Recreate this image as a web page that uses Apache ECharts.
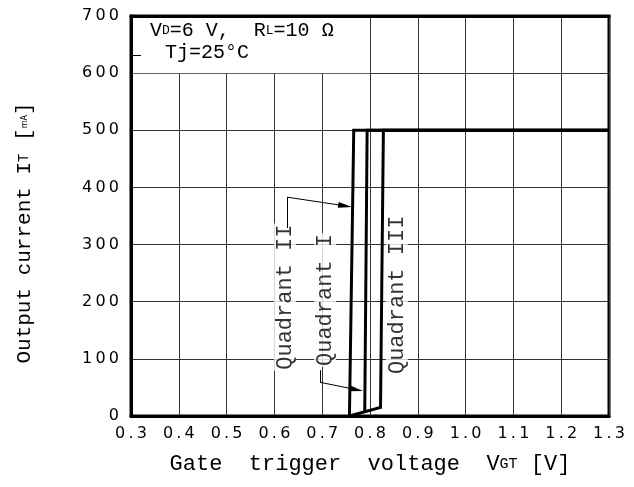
<!DOCTYPE html>
<html><head><meta charset="utf-8">
<script src="https://cdn.jsdelivr.net/npm/echarts@6/dist/echarts.min.js"></script>
<style>html,body{margin:0;padding:0;background:#fff}#c{width:634px;height:487px}</style>
</head><body><div id="c"></div>
<script>
// ---- data ----
const xTickLabels = ['0.3','0.4','0.5','0.6','0.7','0.8','0.9','1.0','1.1','1.2','1.3'];
const yTickLabels = ['0','100','200','300','400','500','600','700'];
const quadrantII  = [[0.757,0],[0.766,500],[1.3,500]];
const quadrantI   = [[0.789,6],[0.794,500],[1.3,500]];
const quadrantIII = [[0.757,0],[0.822,15],[0.828,500],[1.3,500]];
const labelNames  = ['Quadrant II','Quadrant I','Quadrant III'];
const labelPos    = [[0.622,208],[0.706,203],[0.856,212]];
const leaderStems  = [[[0.6264,329],[0.6264,383]], [[0.6954,80],[0.6954,59]], [[0.3,632],[0.321,632]]];
const leaderArrows = [[[0.6264,383],[0.748,367.7]], [[0.6954,59],[0.771,46.2]]];
const condBox = [[0.3,600],[0.798,700]];

const MONO = '"Liberation Mono", monospace';
const SANS = '"DejaVu Sans", sans-serif';
const sp = s => s.split('').join('\u2009');

const chart = echarts.init(document.getElementById('c'), null, {renderer:'canvas'});
const black = '#000';
const curveStyle = {color:black, width:3, join:'miter'};

const option = {
  animation:false,
  backgroundColor:'#fff',
  grid:{left:131, right:25, top:16, bottom:71, show:true, borderColor:black, borderWidth:3, backgroundColor:'transparent'},
  xAxis:[{
    type:'value', min:0.3, max:1.3, interval:0.1, position:'bottom',
    axisLine:{onZero:false, lineStyle:{color:black,width:3}},
    axisTick:{show:false},
    splitLine:{lineStyle:{color:'#333',width:1}},
    axisLabel:{formatter:(v,i)=>sp(xTickLabels[i]), color:black, fontFamily:SANS, fontSize:16, margin:10},
    name:'Gate  trigger  voltage  V{s|GT} [V]', nameLocation:'middle', nameGap:37,
    nameTextStyle:{color:black, fontFamily:MONO, fontSize:22, rich:{s:{fontFamily:MONO,fontSize:15,color:black}}}
  },{
    type:'value', min:0.3, max:1.3, position:'top', z:5,
    axisLine:{show:true,onZero:false, lineStyle:{color:black,width:3}},
    axisTick:{show:false}, axisLabel:{show:false}, splitLine:{show:false}
  }],
  yAxis:[{
    type:'value', min:0, max:700, interval:100, position:'left',
    axisLine:{onZero:false, lineStyle:{color:black,width:3}},
    axisTick:{show:false},
    splitLine:{lineStyle:{color:'#333',width:1}},
    axisLabel:{formatter:(v,i)=>sp(yTickLabels[i]), color:black, fontFamily:SANS, fontSize:16, margin:12},
    name:'Output current I{s|T} [{t|mA}]', nameLocation:'middle', nameGap:96, nameRotate:90,
    nameTextStyle:{color:black, fontFamily:MONO, fontSize:21, padding:[0,34,0,0],
      rich:{s:{fontFamily:MONO,fontSize:14,color:black}, t:{fontFamily:SANS,fontSize:8,color:black}}}
  },{
    type:'value', min:0, max:700, position:'left', z:5,
    axisLine:{show:true,onZero:false, lineStyle:{color:black,width:3}},
    axisTick:{show:false}, axisLabel:{show:false}, splitLine:{show:false}
  }],
  series:[
    {type:'line', data:quadrantII, symbol:'none', lineStyle:curveStyle, z:3,
     markArea:{silent:true, itemStyle:{color:'#fff', opacity:1, borderWidth:0},
       label:{show:true, position:'insideTopLeft', distance:0, offset:[19,4], color:black,
         formatter:'{a|V}{s|D}{a|=6 V,  R}{s|L}{a|=10 Ω}\n{p|}{a|Tj=25°C}',
         rich:{a:{fontFamily:MONO,fontSize:20,color:black,lineHeight:22},
               s:{fontFamily:MONO,fontSize:13,color:black,lineHeight:22},
               p:{width:15}}},
       data:[[{xAxis:condBox[0][0], yAxis:condBox[0][1]},{xAxis:condBox[1][0], yAxis:condBox[1][1]}]]}},
    {type:'line', data:quadrantI, symbol:'none', lineStyle:curveStyle, z:3},
    {type:'line', data:quadrantIII, symbol:'none', lineStyle:curveStyle, z:3},
    {type:'scatter', symbolSize:1, itemStyle:{color:'rgba(0,0,0,0)'}, z:4,
     data:labelNames.map((n,i)=>({name:n, value:labelPos[i]})),
     label:{show:true, position:'inside', rotate:90, formatter:'{b}', color:black,
       fontFamily:MONO, fontSize:22, backgroundColor:'#fff', padding:[0,1]},
     markLine:{silent:true, symbol:['none','none'], lineStyle:{color:black,width:1,type:'solid'}, label:{show:false},
       data:leaderStems.map(s=>[{coord:s[0]},{coord:s[1]}])}},
    {type:'line', data:[], z:4,
     markLine:{silent:true, symbol:['none','triangle'], symbolSize:[6,14], lineStyle:{color:black,width:1,type:'solid'}, itemStyle:{color:black}, label:{show:false},
       data:leaderArrows.map(s=>[{coord:s[0]},{coord:s[1]}])}}
  ]
};
chart.setOption(option);
</script></body></html>
